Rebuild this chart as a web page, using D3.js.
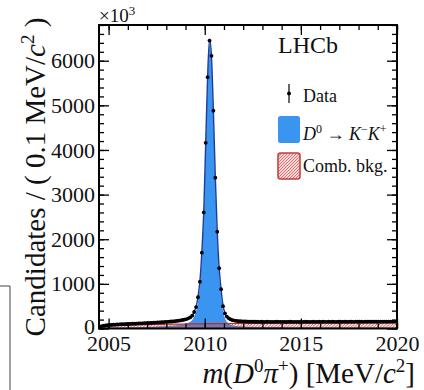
<!DOCTYPE html>
<html>
<head>
<meta charset="utf-8">
<script src="https://cdn.jsdelivr.net/npm/d3@7"></script>
<style>
  html, body { margin: 0; padding: 0; background: #fff; }
  svg { display: block; font-family: "Liberation Serif", "Times New Roman", serif; }
</style>
</head>
<body>
<svg id="chart" width="424" height="390"></svg>
<script>
// m(D0 pi+) spectrum, 0.1 MeV/c^2 bins starting at 2004.5 MeV/c^2
const binStart = 2004.5;
const binWidth = 0.1;

// Candidates per bin (x10^3)
const dataCounts = [
  40, 55, 63, 70, 75,
  79, 82, 85, 88, 90, 93, 95, 97, 99, 101,
  103, 105, 107, 109, 111, 113, 115, 117, 120, 122,
  124, 126, 128, 131, 133, 136, 138, 141, 144, 147,
  150, 153, 157, 161, 165, 170, 176, 183, 191, 200,
  212, 228, 250, 290, 370, 480, 700, 1050, 1700, 2600,
  4160, 5630, 6450, 6110, 4880, 3380, 2170, 1350, 880, 500,
  340, 268, 228, 203, 186, 177, 170, 165, 162, 160,
  158, 157, 154, 155, 152, 153, 151, 152, 150, 151,
  150, 149, 151, 150, 148, 150, 149, 151, 150, 149,
  149, 150, 148, 150, 151, 149, 150, 149, 148, 150,
  150, 149, 151, 150, 149, 150, 151, 149, 150, 151,
  150, 151, 149, 150, 152, 150, 151, 150, 149, 151,
  151, 150, 152, 151, 150, 152, 151, 150, 152, 151,
  151, 152, 150, 152, 151, 153, 151, 152, 152, 151,
  152, 151, 153, 152, 151, 153, 152, 152, 153, 152
];

// Full fit model evaluated at the bin centres
const fitTotal = [
  40, 54, 63, 70, 75,
  79, 82, 85, 88, 90, 93, 95, 97, 99, 101,
  103, 105, 107, 109, 111, 113, 115, 117, 120, 122,
  124, 126, 128, 131, 133, 136, 138, 141, 144, 147,
  150, 153, 157, 161, 165, 170, 176, 183, 191, 200,
  212, 230, 255, 295, 370, 490, 710, 1070, 1720, 2640,
  4150, 5650, 6480, 6100, 4870, 3390, 2180, 1360, 880, 520,
  345, 265, 225, 200, 185, 176, 170, 166, 163, 160,
  158, 156, 155, 154, 153, 152, 151, 151, 150, 150,
  150, 150, 150, 150, 150, 150, 150, 150, 150, 150,
  150, 150, 150, 150, 150, 150, 150, 150, 150, 150,
  150, 150, 150, 150, 150, 150, 150, 150, 150, 150,
  150, 150, 150, 151, 151, 151, 151, 151, 151, 151,
  151, 151, 151, 151, 151, 151, 151, 151, 151, 151,
  151, 152, 152, 152, 152, 152, 152, 152, 152, 152,
  152, 152, 152, 152, 152, 152, 152, 152, 152, 152
];

// Combinatorial background component at the bin centres
const combBkg = [
  25, 35, 42, 48, 53,
  57, 60, 63, 65, 67, 69, 71, 73, 75, 76,
  78, 79, 80, 81, 82, 83, 84, 85, 86, 87,
  88, 89, 90, 90, 91, 92, 93, 93, 94, 95,
  95, 96, 97, 97, 98, 98, 99, 100, 100, 101,
  101, 102, 102, 103, 103, 104, 104, 105, 105, 106,
  106, 107, 107, 107, 108, 108, 109, 109, 110, 110,
  110, 111, 111, 112, 112, 112, 113, 113, 113, 114,
  114, 114, 115, 115, 115, 116, 116, 116, 117, 117,
  117, 117, 118, 118, 118, 118, 119, 119, 119, 119,
  120, 120, 120, 120, 121, 121, 121, 121, 122, 122,
  122, 122, 123, 123, 123, 123, 124, 124, 124, 124,
  125, 125, 125, 125, 126, 126, 126, 126, 127, 127,
  127, 127, 127, 128, 128, 128, 128, 129, 129, 129,
  129, 129, 130, 130, 130, 130, 131, 131, 131, 131,
  131, 132, 132, 132, 132, 133, 133, 133, 133, 134
];

const xMajorTicks = [2005, 2010, 2015, 2020];
const xMinorTicks = [2005, 2006, 2007, 2008, 2009, 2010, 2011, 2012, 2013, 2014, 2015, 2016, 2017, 2018, 2019, 2020];
const yMajorTicks = [0, 1000, 2000, 3000, 4000, 5000, 6000];
const yMinorTicks = d3.range(0, 6801, 200);

const bins = dataCounts.map((v, i) => ({
  m: binStart + binWidth * (i + 0.5),
  data: v,
  total: fitTotal[i],
  bkg: combBkg[i],
  sig: fitTotal[i] - combBkg[i]
}));

const svg = d3.select("#chart");
const L = 99, R = 397, T = 25, B = 328.5;

const x = d3.scaleLinear().domain([binStart, 2020]).range([L, R]);
const y = d3.scaleLinear().domain([0, 6800]).range([B, T]);

const defs = svg.append("defs");
defs.append("clipPath").attr("id", "plotClip")
  .append("rect").attr("x", L).attr("y", T).attr("width", R - L).attr("height", B - T);

const hatch = defs.append("pattern").attr("id", "hatch")
  .attr("patternUnits", "userSpaceOnUse").attr("width", 3.2).attr("height", 3.2);
hatch.append("rect").attr("width", 3.2).attr("height", 3.2).attr("fill", "rgba(225,90,90,0.18)");
hatch.append("path").attr("d", "M-0.8,0.8 L0.8,-0.8 M0,3.2 L3.2,0 M2.4,4 L4,2.4")
  .attr("stroke", "#cf4040").attr("stroke-width", 0.8);

const hatchLeg = defs.append("pattern").attr("id", "hatchLeg")
  .attr("patternUnits", "userSpaceOnUse").attr("width", 3).attr("height", 3);
hatchLeg.append("rect").attr("width", 3).attr("height", 3).attr("fill", "#f6d6d6");
hatchLeg.append("path").attr("d", "M-0.75,0.75 L0.75,-0.75 M0,3 L3,0 M2.25,3.75 L3.75,2.25")
  .attr("stroke", "#d05a5a").attr("stroke-width", 0.8);

const plot = svg.append("g").attr("clip-path", "url(#plotClip)");

// Signal component
plot.append("path").datum(bins)
  .attr("fill", "#3a95f0")
  .attr("d", d3.area().curve(d3.curveMonotoneX)
    .x(d => x(d.m)).y0(y(0)).y1(d => y(d.sig)));

// Combinatorial background (hatched)
plot.append("path").datum(bins)
  .attr("fill", "url(#hatch)")
  .attr("d", d3.area().curve(d3.curveMonotoneX)
    .x(d => x(d.m)).y0(y(0)).y1(d => y(d.bkg)));
plot.append("path").datum(bins)
  .attr("fill", "none").attr("stroke", "#c82828").attr("stroke-width", 1.2)
  .attr("d", d3.line().curve(d3.curveMonotoneX).x(d => x(d.m)).y(d => y(d.bkg)));

// Total fit
plot.append("path").datum(bins)
  .attr("fill", "none").attr("stroke", "#1d3c9c").attr("stroke-width", 1.4)
  .attr("d", d3.line().curve(d3.curveMonotoneX).x(d => x(d.m)).y(d => y(d.total)));

// Data points
plot.append("g").selectAll("circle").data(bins).join("circle")
  .attr("cx", d => x(d.m)).attr("cy", d => y(d.data)).attr("r", 1.9)
  .attr("fill", "#000");

// Axes: ticks drawn inward on all four sides
function styleAxis(g) {
  g.select(".domain").remove();
  g.selectAll("line").attr("stroke", "#000").attr("stroke-width", 1.3);
  g.selectAll("text").attr("font-size", 22).attr("fill", "#111")
    .attr("font-family", "'Liberation Serif', 'Times New Roman', serif");
}

svg.append("g").attr("transform", `translate(0,${B})`)
  .call(d3.axisBottom(x).tickValues(xMinorTicks).tickSize(-5).tickFormat(""))
  .call(styleAxis);
svg.append("g").attr("transform", `translate(0,${B})`)
  .call(d3.axisBottom(x).tickValues(xMajorTicks).tickSize(-10).tickPadding(7).tickFormat(d3.format("d")))
  .call(styleAxis);
svg.append("g").attr("transform", `translate(0,${T})`)
  .call(d3.axisTop(x).tickValues(xMinorTicks).tickSize(-5).tickFormat(""))
  .call(styleAxis);
svg.append("g").attr("transform", `translate(0,${T})`)
  .call(d3.axisTop(x).tickValues(xMajorTicks).tickSize(-10).tickFormat(""))
  .call(styleAxis);

svg.append("g").attr("transform", `translate(${L},0)`)
  .call(d3.axisLeft(y).tickValues(yMinorTicks).tickSize(-5).tickFormat(""))
  .call(styleAxis);
const yAxisG = svg.append("g").attr("transform", `translate(${L},0)`)
  .call(d3.axisLeft(y).tickValues(yMajorTicks).tickSize(-10).tickPadding(4).tickFormat(d3.format("d")))
  .call(styleAxis);
// lift the zero label clear of the first x label
yAxisG.selectAll(".tick").filter(d => d === 0).select("text").attr("y", -2.5);

svg.append("g").attr("transform", `translate(${R},0)`)
  .call(d3.axisRight(y).tickValues(yMinorTicks).tickSize(-5).tickFormat(""))
  .call(styleAxis);
svg.append("g").attr("transform", `translate(${R},0)`)
  .call(d3.axisRight(y).tickValues(yMajorTicks).tickSize(-10).tickFormat(""))
  .call(styleAxis);

// Frame
svg.append("rect").attr("x", L).attr("y", T).attr("width", R - L).attr("height", B - T)
  .attr("fill", "none").attr("stroke", "#000").attr("stroke-width", 2);

// Exponent marker
const expo = svg.append("text").attr("x", L).attr("y", 22).attr("font-size", 19).attr("fill", "#111");
expo.append("tspan").text("×10");
expo.append("tspan").attr("dy", -7).attr("font-size", 13).text("3");

// Axis titles
const yt = svg.append("text")
  .attr("transform", "translate(45,177) rotate(-90)")
  .attr("text-anchor", "middle").attr("font-size", 29).attr("fill", "#111");
yt.append("tspan").text("Candidates / ( 0.1 MeV/");
yt.append("tspan").attr("font-style", "italic").text("c");
yt.append("tspan").attr("dy", -11).attr("font-size", 19).text("2");
yt.append("tspan").attr("dy", 11).text(" )");

const xt = svg.append("text").attr("x", 415).attr("y", 383)
  .attr("text-anchor", "end").attr("font-size", 29).attr("fill", "#111");
xt.append("tspan").attr("font-style", "italic").text("m");
xt.append("tspan").text("(");
xt.append("tspan").attr("font-style", "italic").text("D");
xt.append("tspan").attr("dy", -11).attr("font-size", 19).text("0");
xt.append("tspan").attr("dy", 11).attr("font-style", "italic").text("π");
xt.append("tspan").attr("dy", -11).attr("font-size", 19).text("+");
xt.append("tspan").attr("dy", 11).text(") [MeV/");
xt.append("tspan").attr("font-style", "italic").text("c");
xt.append("tspan").attr("dy", -11).attr("font-size", 19).text("2");
xt.append("tspan").attr("dy", 11).text("]");

// Experiment label
svg.append("text").attr("x", 278).attr("y", 53).attr("font-size", 24).attr("fill", "#111").text("LHCb");

// Legend
const leg = svg.append("g");
leg.append("line").attr("x1", 289).attr("x2", 289).attr("y1", 84).attr("y2", 103)
  .attr("stroke", "#000").attr("stroke-width", 1.2);
leg.append("circle").attr("cx", 289).attr("cy", 93.5).attr("r", 2).attr("fill", "#000");
leg.append("text").attr("x", 303).attr("y", 102).attr("font-size", 18).attr("fill", "#111").text("Data");

leg.append("rect").attr("x", 278).attr("y", 116).attr("width", 22).attr("height", 27).attr("rx", 2.5)
  .attr("fill", "#3a95f0");
const sigText = leg.append("text").attr("x", 303).attr("y", 140).attr("font-size", 18).attr("fill", "#111");
sigText.append("tspan").attr("font-style", "italic").text("D");
sigText.append("tspan").attr("dy", -7).attr("font-size", 12).text("0");
sigText.append("tspan").attr("dy", 7).text(" → ");
sigText.append("tspan").attr("font-style", "italic").text("K");
sigText.append("tspan").attr("dy", -7).attr("font-size", 12).text("−");
sigText.append("tspan").attr("dy", 7).attr("font-style", "italic").text("K");
sigText.append("tspan").attr("dy", -7).attr("font-size", 12).text("+");

leg.append("rect").attr("x", 278).attr("y", 153).attr("width", 22).attr("height", 26).attr("rx", 2.5)
  .attr("fill", "url(#hatchLeg)").attr("stroke", "#c43a3a").attr("stroke-width", 1.5);
leg.append("text").attr("x", 303).attr("y", 172).attr("font-size", 18).attr("fill", "#111").text("Comb. bkg.");

// Neighbouring panel border at the lower left
svg.append("path").attr("d", "M0,286 H10 V390")
  .attr("fill", "none").attr("stroke", "#444").attr("stroke-width", 1);
</script>
</body>
</html>
